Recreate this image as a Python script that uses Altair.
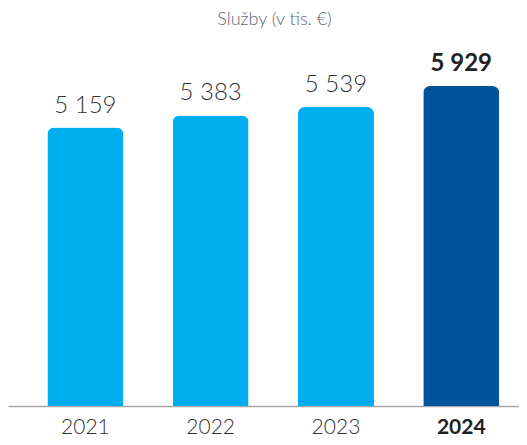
import altair as alt
import pandas as pd

years = ["2021", "2022", "2023", "2024"]
values = [5159, 5383, 5539, 5929]
labels = [f"{v:,}".replace(",", " ") for v in values]
highlight = [False, False, False, True]

df = pd.DataFrame({"year": years, "value": values, "label": labels, "hl": highlight})

FONT = "Lato"
x = alt.X(
    "year:N",
    title=None,
    sort=years,
    scale=alt.Scale(paddingInner=0.3935, paddingOuter=0.236, align=0.666),
    axis=alt.Axis(
        labelAngle=0,
        labelFont=FONT,
        labelFontSize=21,
        labelFontWeight={"condition": {"test": "datum.value == '2024'", "value": 700}, "value": 300},
        labelColor={"condition": {"test": "datum.value == '2024'", "value": "#222222"}, "value": "#333333"},
        labelPadding=10,
        ticks=False,
        domainColor="#a6a6a6",
        domainWidth=1.5,
        grid=False,
    ),
)
y = alt.Y(
    "value:Q",
    title=None,
    scale=alt.Scale(domain=[0, 6874], nice=False, zero=True),
    axis=None,
)

base = alt.Chart(df).encode(x=x, y=y)

bars = base.mark_bar(cornerRadiusTopLeft=7, cornerRadiusTopRight=7).encode(
    color=alt.condition(alt.datum.hl, alt.value("#00559A"), alt.value("#00AEEF"))
)

text_reg = (
    base.transform_filter("!datum.hl")
    .mark_text(baseline="alphabetic", dy=-15, font=FONT, fontSize=24, fontWeight=300, color="#333333")
    .encode(text="label:N")
)
text_hl = (
    base.transform_filter("datum.hl")
    .mark_text(baseline="alphabetic", dy=-15, font=FONT, fontSize=24, fontWeight=700, color="#222222")
    .encode(text="label:N")
)

chart = (
    alt.layer(bars, text_reg, text_hl)
    .properties(
        width=511,
        height=371,
        padding={"left": 0, "right": 0, "top": 3, "bottom": 0},
        title=alt.TitleParams(
            "Služby (v tis. €)",
            font=FONT,
            fontSize=18,
            fontWeight=300,
            color="#5b6770",
            anchor="middle",
            dx=11,
            offset=6,
        ),
    )
    .configure_view(stroke=None)
)

chart.save("out.html", embed_options={"renderer": "svg", "actions": False})
